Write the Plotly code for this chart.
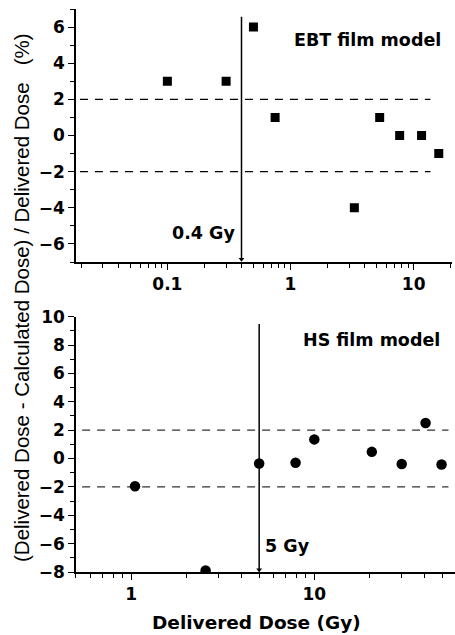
import plotly.graph_objects as go

# ---- data ----
ebt_dose = [0.1, 0.3, 0.5, 0.75, 3.3, 5.3, 7.7, 11.6, 16]
ebt_diff = [3, 3, 6, 1, -4, 1, 0, 0, -1]
hs_dose = [1.05, 2.55, 5.0, 7.9, 10, 20.6, 30, 40.5, 49.5]
hs_diff = [-1.95, -7.9, -0.35, -0.3, 1.35, 0.47, -0.38, 2.5, -0.42]
tolerance = [2, -2]
ebt_tol_span = [0.0195, 13.7]
hs_tol_span = [0.54, 54]
ebt_threshold = 0.4
hs_threshold = 5
ebt_arrow_y = [6.57, -6.85]
hs_arrow_y = [9.48, -7.85]
ebt_major = [0.1, 1, 10]
ebt_major_text = ["0.1", "1", "10"]
hs_major = [1, 10]
hs_major_text = ["1", "10"]
ebt_yticks = [-6, -4, -2, 0, 2, 4, 6]
hs_yticks = [-8, -6, -4, -2, 0, 2, 4, 6, 8, 10]

W, H = 455, 635
L, R, T, B = 76, 0, 9, 63
PW, PH = W - L - R, H - T - B


def px(x):
    return (x - L) / PW


def py(y):
    return (H - B - y) / PH


fig = go.Figure()

for t in tolerance:
    fig.add_trace(go.Scatter(x=ebt_tol_span, y=[t, t], mode="lines",
                             line=dict(color="black", width=1.4, dash="8px,7px"),
                             xaxis="x", yaxis="y", showlegend=False, hoverinfo="skip"))
    fig.add_trace(go.Scatter(x=hs_tol_span, y=[t, t], mode="lines",
                             line=dict(color="#333", width=1.3, dash="8px,7px"),
                             xaxis="x2", yaxis="y2", showlegend=False, hoverinfo="skip"))

fig.add_trace(go.Scatter(x=[ebt_threshold, ebt_threshold], y=ebt_arrow_y, mode="lines",
                         line=dict(color="black", width=1.5),
                         xaxis="x", yaxis="y", showlegend=False, hoverinfo="skip"))
fig.add_trace(go.Scatter(x=[ebt_threshold], y=[ebt_arrow_y[1]], mode="markers",
                         marker=dict(symbol="triangle-down", size=5, color="black"),
                         xaxis="x", yaxis="y", showlegend=False, hoverinfo="skip"))
fig.add_trace(go.Scatter(x=[hs_threshold, hs_threshold], y=hs_arrow_y, mode="lines",
                         line=dict(color="black", width=1.5),
                         xaxis="x2", yaxis="y2", showlegend=False, hoverinfo="skip"))
fig.add_trace(go.Scatter(x=[hs_threshold], y=[hs_arrow_y[1]], mode="markers",
                         marker=dict(symbol="triangle-down", size=5, color="black"),
                         xaxis="x2", yaxis="y2", showlegend=False, hoverinfo="skip"))

fig.add_trace(go.Scatter(x=ebt_dose, y=ebt_diff, mode="markers",
                         marker=dict(symbol="square", size=9, color="black"),
                         xaxis="x", yaxis="y", showlegend=False))
fig.add_trace(go.Scatter(x=hs_dose, y=hs_diff, mode="markers",
                         marker=dict(symbol="circle", size=10.5, color="black"),
                         xaxis="x2", yaxis="y2", showlegend=False))

tickfont = dict(family="DejaVu Sans", size=17, color="black", weight="bold")

axis_common = dict(showline=True, linecolor="black", linewidth=1.6, showgrid=False,
                   zeroline=False, ticks="outside", ticklen=6, tickwidth=1.4,
                   tickcolor="black", tickfont=tickfont)
minor_log = dict(dtick="D1", ticks="outside", ticklen=4, tickwidth=1.2,
                 tickcolor="black", showgrid=False)
minor_lin = dict(dtick=1, ticks="outside", ticklen=4, tickwidth=1.2,
                 tickcolor="black", showgrid=False)

fig.update_layout(
    width=W, height=H,
    margin=dict(l=L, r=R, t=T, b=B),
    paper_bgcolor="white", plot_bgcolor="white",
    xaxis=dict(type="log", domain=[0, px(452.3)], range=[-1.742, 1.314],
               anchor="y", tickmode="array", tickvals=ebt_major, ticktext=ebt_major_text,
               minor=minor_log, **axis_common),
    yaxis=dict(domain=[py(262), 1], range=[-7, 7], anchor="x",
               tickmode="array", tickvals=ebt_yticks,
               minor=minor_lin, **axis_common),
    xaxis2=dict(type="log", domain=[0, 1], range=[-0.301, 1.768],
                anchor="y2", tickmode="array", tickvals=hs_major, ticktext=hs_major_text,
                minor=minor_log, **axis_common),
    yaxis2=dict(domain=[0, py(316.7)], range=[-8, 10], anchor="x2",
                tickmode="array", tickvals=hs_yticks,
                minor=minor_lin, **axis_common),
)

ann_font = dict(family="DejaVu Sans", size=17.5, color="black", weight="bold")
fig.add_annotation(text="EBT film model", xref="paper", yref="paper",
                   x=px(443), y=py(40), xanchor="right", yanchor="middle",
                   showarrow=False, font=ann_font)
fig.add_annotation(text="0.4 Gy", xref="paper", yref="paper",
                   x=px(237), y=py(233), xanchor="right", yanchor="middle",
                   showarrow=False, font=ann_font)
fig.add_annotation(text="HS film model", xref="paper", yref="paper",
                   x=px(441.7), y=py(340), xanchor="right", yanchor="middle",
                   showarrow=False, font=ann_font)
fig.add_annotation(text="5 Gy", xref="paper", yref="paper",
                   x=px(263), y=py(545.7), xanchor="left", yanchor="middle",
                   showarrow=False, font=ann_font)
fig.add_annotation(text="Delivered Dose (Gy)", xref="paper", yref="paper",
                   x=px(256), y=py(622), xanchor="center", yanchor="middle",
                   showarrow=False,
                   font=dict(family="DejaVu Sans", size=18.5, color="black", weight="bold"))
fig.add_annotation(text="(Delivered Dose - Calculated Dose) / Delivered Dose   (%)",
                   xref="paper", yref="paper", x=px(21), y=py(298),
                   xanchor="center", yanchor="middle", textangle=-90,
                   showarrow=False, font=dict(family="Liberation Sans", size=20.5, color="black"))

fig.write_html("out.html")
